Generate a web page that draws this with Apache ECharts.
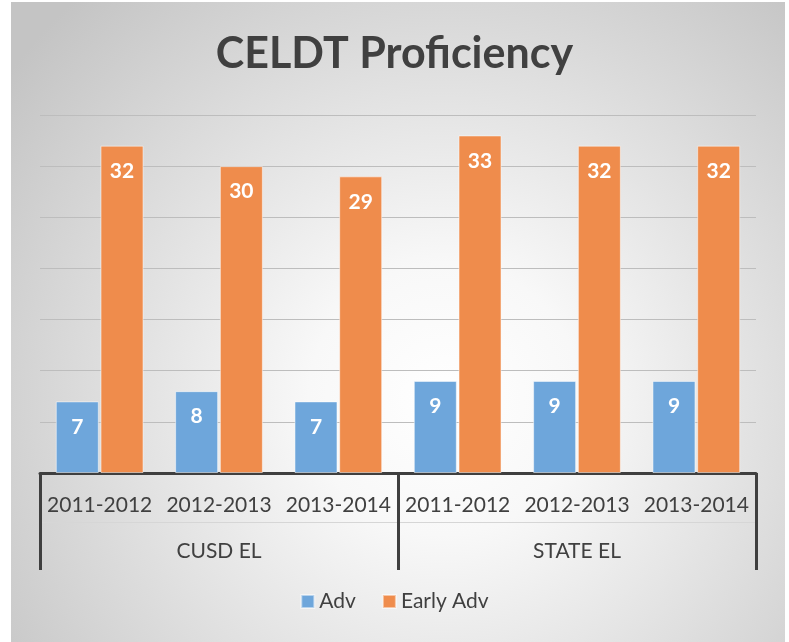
<!DOCTYPE html>
<html><head><meta charset="utf-8">
<script src="https://cdn.jsdelivr.net/npm/echarts@6/dist/echarts.min.js"></script>
<style>html,body{margin:0;padding:0;background:#fff}#c{width:789px;height:642px}</style>
</head><body><div id="c"></div>
<script>
const years = ['2011-2012','2012-2013','2013-2014','2011-2012','2012-2013','2013-2014'];
const groups = ['CUSD EL','STATE EL'];
const advValues = [7, 8, 7, 9, 9, 9];
const earlyAdvValues = [32, 30, 29, 33, 32, 32];
const seriesNames = ['Adv','Early Adv'];

const chart = echarts.init(document.getElementById('c'));
const txt = '#404040';
const font = 'Lato, "Open Sans", sans-serif';
const labelCfg = {show:true, position:'insideTop', distance:15, color:'#fff', fontWeight:'bold', fontSize:21, fontFamily:font};
chart.setOption({
  backgroundColor:'#fff',
  graphic:[{type:'rect', z:-10, shape:{x:11,y:2,width:774,height:640},
    style:{fill:{type:'radial',x:0.56,y:0.62,r:0.85,colorStops:[{offset:0,color:'#ffffff'},{offset:0.25,color:'#f8f8f8'},{offset:1,color:'#c4c4c4'}]}}}],
  title:{text:'CELDT Proficiency', left:'center', top:28, textStyle:{fontSize:43, fontWeight:'bold', color:txt, fontFamily:font}},
  legend:{bottom:25, left:'center', itemWidth:13, itemHeight:13, itemGap:26, icon:'rect',
    textStyle:{fontSize:21, color:txt, fontFamily:font}, data:seriesNames},
  grid:{left:40, right:33, top:115, bottom:169},
  xAxis:[
    {type:'category', data:years, axisLine:{lineStyle:{color:'#3f3f3f', width:3}}, axisTick:{show:false},
     axisLabel:{margin:22, fontSize:21, color:txt, fontFamily:font, interval:0}},
    {type:'category', data:groups, position:'bottom', axisLine:{show:false},
     axisTick:{show:true, length:97, lineStyle:{color:'#3f3f3f', width:3}},
     axisLabel:{margin:68, fontSize:21, color:txt, fontFamily:font}},
    {type:'category', data:groups, position:'bottom', offset:49, axisLine:{show:true, lineStyle:{color:'#d6d6d6', width:1}},
     axisTick:{show:false}, axisLabel:{show:false}}
  ],
  yAxis:{type:'value', min:0, max:35, interval:5, axisLabel:{show:false}, axisLine:{show:false}, axisTick:{show:false},
    splitLine:{lineStyle:{color:'#bdbdbd', width:1}}},
  series:[
    {name:seriesNames[0], type:'bar', data:advValues, barWidth:43, barGap:'4%', label:labelCfg,
     itemStyle:{color:'#6ea6db', borderColor:'rgba(255,255,255,0.5)', borderWidth:1}},
    {name:seriesNames[1], type:'bar', data:earlyAdvValues, barWidth:43, label:labelCfg,
     itemStyle:{color:'#ef8c4c', borderColor:'rgba(255,255,255,0.5)', borderWidth:1}}
  ]
});
</script></body></html>
